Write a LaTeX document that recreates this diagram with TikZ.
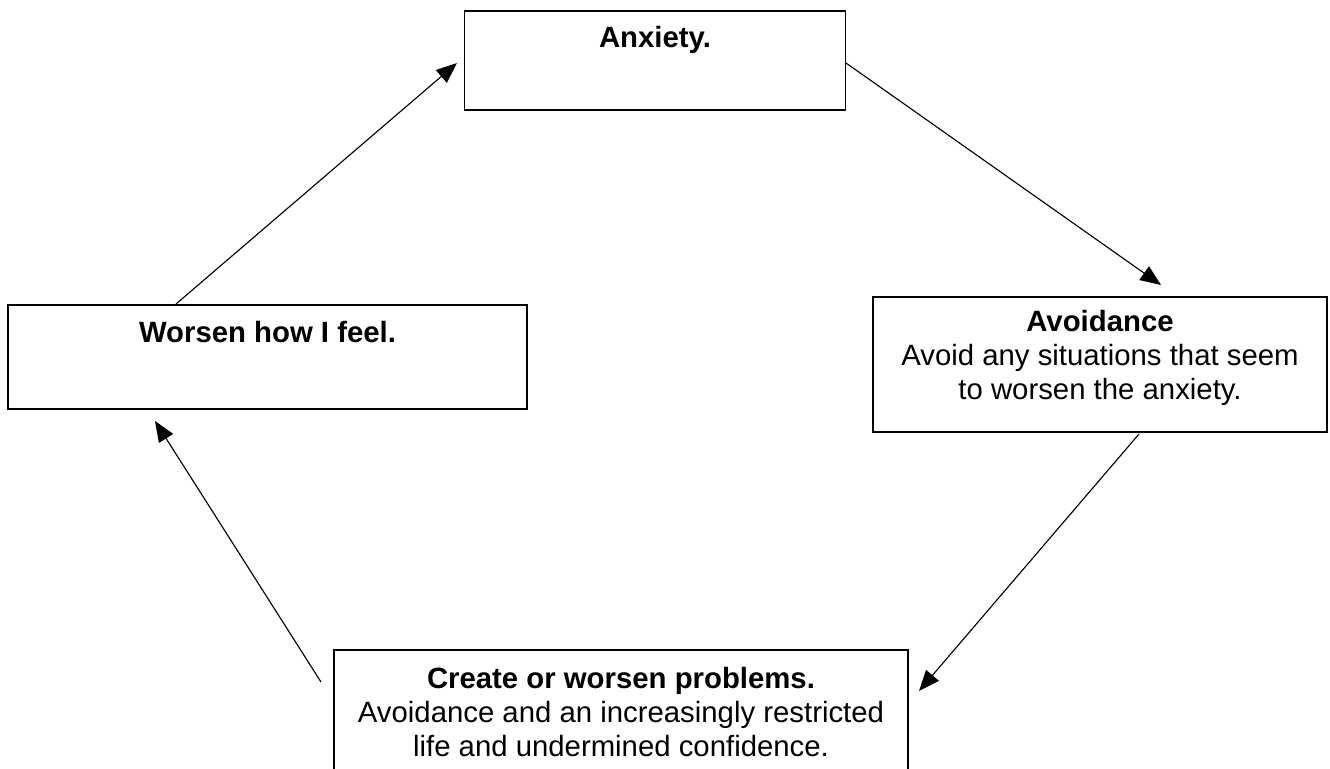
\documentclass[tikz,border=0pt]{standalone}
\usepackage{fontspec}
\setmainfont{Liberation Sans}
\usetikzlibrary{arrows.meta,positioning}
\tikzset{
  box/.style={draw=black, line width=1.3pt, rectangle, inner sep=0pt},
  txt/.style={align=center, font=\fontsize{22}{25.5}\selectfont, inner sep=0pt},
  flow/.style={draw=black, line width=0.85pt, -{Triangle[length=15.5pt,width=12.5pt]}}
}
\begin{document}
\begin{tikzpicture}[x=0.75pt, y=-0.75pt]
\useasboundingbox (0,0) rectangle (1330,768);
\fill[white] (0,0) rectangle (1330,768);

% the four boxes of the cycle
\node[box, minimum width=381*0.75pt, minimum height=99*0.75pt] (anx) at (655,60.5) {};
\node[box, minimum width=519*0.75pt, minimum height=104*0.75pt] (wor) at (267.5,357) {};
\node[box, minimum width=454*0.75pt, minimum height=135*0.75pt] (avo) at (1100,364.5) {};
\node[box, minimum width=574*0.75pt, minimum height=124*0.75pt] (cre) at (621,712) {};

% box texts
\node[txt] (anxt) at (655,40) {\textbf{Anxiety.}};
\node[txt] (wort) at (267.5,332) {\textbf{Worsen how I feel.}};
\node[txt] (avot) at (1100,358) {\textbf{Avoidance}\\Avoid any situations that seem\\to worsen the anxiety.};
\node[txt] (cret) at (621,712) {\textbf{Create or worsen problems.}\\Avoidance and an increasingly restricted\\life and undermined confidence.};

% connector end points
\coordinate (a1) at (176,304);
\coordinate (b1) at (457,63);
\coordinate (a2) at (846,63);
\coordinate (b2) at (1161,285);
\coordinate (a3) at (1139,434);
\coordinate (b3) at (919,691);
\coordinate (a4) at (321,682);
\coordinate (b4) at (155,421);

\draw[flow] (a1) -- (b1);
\draw[flow] (a2) -- (b2);
\draw[flow] (a3) -- (b3);
\draw[flow] (a4) -- (b4);
\end{tikzpicture}
\end{document}
